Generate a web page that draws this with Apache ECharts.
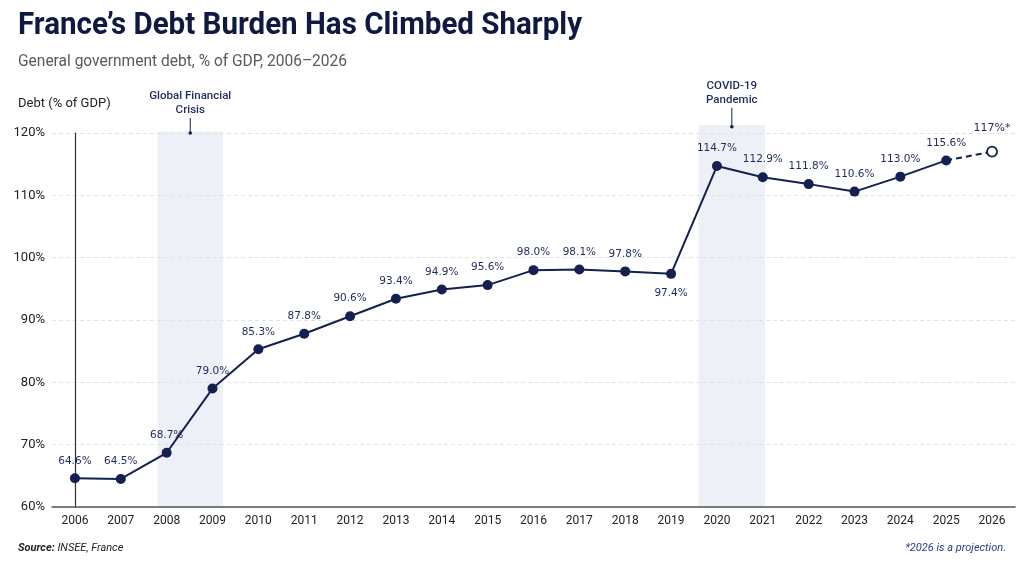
<!DOCTYPE html>
<html><head><meta charset="utf-8">
<script src="https://cdn.jsdelivr.net/npm/echarts@6/dist/echarts.min.js"></script>
<style>html,body{margin:0;padding:0;background:#fff}#c{width:1024px;height:562px}</style>
</head><body><div id="c"></div>
<script>
const years = ['2006','2007','2008','2009','2010','2011','2012','2013','2014','2015','2016','2017','2018','2019','2020','2021','2022','2023','2024','2025','2026'];
const debt = [64.6,64.5,68.7,79.0,85.3,87.8,90.6,93.4,94.9,95.6,98.0,98.1,97.8,97.4,114.7,112.9,111.8,110.6,113.0,115.6];
const projection = 117;
const labelBelowYears = ['2019'];
const events = [
  {label:['Global Financial','Crisis'], start:1.8, end:3.23, top:120.0, stem:15},
  {label:['COVID-19','Pandemic'], start:13.6, end:15.05, top:121.0, stem:19}
];
const titleText = 'France\u2019s Debt Burden Has Climbed Sharply';
const subtitleText = 'General government debt, % of GDP, 2006\u20132026';

const NAVY = '#14204f';
const LABEL = '#1f2a5c';
const chart = echarts.init(document.getElementById('c'), null, {renderer:'canvas'});

function fitScale(text, font, width) {
  const ctx = document.createElement('canvas').getContext('2d');
  ctx.font = font;
  return width / ctx.measureText(text).width;
}

const mainData = years.map((y,i) => {
  if (i >= debt.length) return null;
  const item = {value: debt[i]};
  if (labelBelowYears.includes(y)) item.label = {position:'bottom', distance:9};
  return item;
});
const projData = years.map((y,i) => {
  if (i === debt.length - 1) return {value: debt[i], symbol:'none', label:{show:false}};
  if (i === debt.length) return {value: projection};
  return null;
});

chart.setOption({
  animation:false,
  backgroundColor:'#fff',
  title:[
    {text:'Debt (% of GDP)', left:18, top:97, padding:0,
     textStyle:{fontFamily:'Roboto', fontWeight:'normal', fontSize:13, color:'#222'}},
    {text:'{b|Source:} INSEE, France', left:18, top:543, padding:0,
     textStyle:{fontFamily:'Roboto', fontStyle:'italic', fontWeight:'normal', fontSize:11, color:'#222',
       rich:{b:{fontFamily:'Roboto', fontStyle:'italic', fontWeight:'bold', fontSize:11, color:'#222'}}}},
    {text:'*2026 is a projection.', right:18, top:543, padding:0,
     textStyle:{fontFamily:'Roboto', fontStyle:'italic', fontWeight:'normal', fontSize:11, color:'#2b3a86'}}
  ],
  grid:{left:52, right:9, top:133, bottom:55},
  xAxis:[
    {type:'category', data:years, boundaryGap:true,
     axisLine:{lineStyle:{color:'#555', width:1.5}}, axisTick:{show:false},
     axisLabel:{color:'#222', fontFamily:'Roboto', fontSize:12, margin:8}},
    {type:'value', min:-0.5, max:years.length-0.5, show:false}
  ],
  yAxis:{type:'value', min:60, max:120, interval:10,
    axisLine:{show:true, lineStyle:{color:'#333', width:1.2}}, axisTick:{show:false},
    axisLabel:{formatter:'{value}%', color:'#222', fontFamily:'Roboto', fontSize:13, margin:7},
    splitLine:{lineStyle:{color:'#e2e2e2', type:[4,3]}}},
  series:[
    {type:'line', xAxisIndex:1, data:[[0,null]], symbol:'none', silent:true, z:0},
    {type:'line', data:mainData, symbol:'circle', symbolSize:10, z:3,
     lineStyle:{color:NAVY, width:2}, itemStyle:{color:NAVY},
     label:{show:true, position:'top', distance:7, color:LABEL, fontFamily:'DejaVu Sans', fontSize:10.5,
       formatter:p => p.value.toFixed(1)+'%'}},
    {type:'line', data:projData, symbol:'circle', symbolSize:10, z:2,
     lineStyle:{color:NAVY, width:2, type:[6,4]}, itemStyle:{color:'#fff', borderColor:NAVY, borderWidth:1.8},
     label:{show:true, position:'top', distance:12, color:LABEL, fontFamily:'DejaVu Sans', fontSize:11,
       formatter:p => p.value + '%*'}}
  ]
});

const titleFont = 'bold 31px Roboto';
const subFont = '17px Roboto';
const g = [
  {type:'text', x:18, y:26, scaleX:fitScale(titleText, titleFont, 564),
   style:{text:titleText, font:titleFont, fill:'#0f1a42', textVerticalAlign:'middle'}},
  {type:'text', x:18, y:62, scaleX:fitScale(subtitleText, subFont, 329),
   style:{text:subtitleText, font:subFont, fill:'#595959', textVerticalAlign:'middle'}}
];
events.forEach(e => {
  const a = chart.convertToPixel({xAxisIndex:1, yAxisIndex:0}, [e.start, 60]);
  const b = chart.convertToPixel({xAxisIndex:1, yAxisIndex:0}, [e.end, e.top + 0.3]);
  g.push({type:'rect', z:-10, silent:true, shape:{x:a[0], y:b[1], width:b[0]-a[0], height:a[1]-b[1]}, style:{fill:'#eef0f7'}});
  const mid = (e.start + e.end)/2;
  const p = chart.convertToPixel({xAxisIndex:1, yAxisIndex:0}, [mid, e.top]);
  g.push({type:'line', shape:{x1:p[0], y1:p[1]-e.stem, x2:p[0], y2:p[1]}, style:{stroke:NAVY, lineWidth:1}});
  g.push({type:'circle', shape:{cx:p[0], cy:p[1], r:1.8}, style:{fill:NAVY}});
  g.push({type:'text', x:p[0], y:p[1]-e.stem-1, style:{text:e.label.join('\n'), textAlign:'center', textVerticalAlign:'bottom',
    font:'500 11.5px Roboto', lineHeight:14, fill:LABEL}});
});
chart.setOption({graphic:g});
</script></body></html>
